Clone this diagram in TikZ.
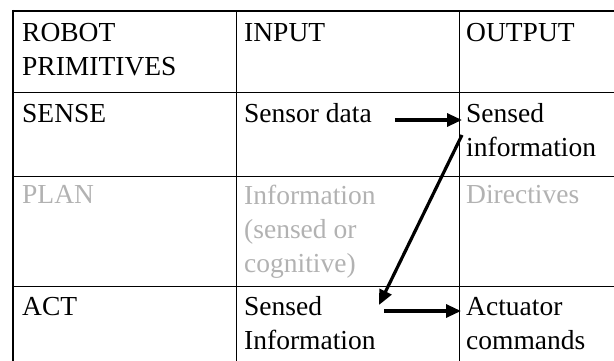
\documentclass[tikz,border=0pt]{standalone}
\usepackage{fontspec}
\setmainfont{Liberation Serif}
\usetikzlibrary{arrows.meta, positioning, calc}

\tikzset{
  cell/.style={anchor=base west, inner sep=0pt, align=left,
    font=\fontsize{27.5}{34}\selectfont},
  faded/.style={cell, text=black!30},
  flow/.style={line width=3.2pt, -{Triangle[length=15pt, width=13pt]}}
}

\begin{document}
\begin{tikzpicture}[x=1pt, y=-1pt]
			\useasboundingbox (0,0) rectangle (614,361);
			% Grid
			\draw[line width=2pt] (13,11) -- (614,11);
			\draw[line width=2pt] (13,10) -- (13,361);
			\foreach \gx in {236, 459}
				\draw[line width=1pt] (\gx,11) -- (\gx,361);
			\foreach \gy in {93, 176, 286}
				\draw[line width=1pt] (13,\gy) -- (614,\gy);
			
			% Header row (multi-line cells sit on their last baseline)
			\node[cell] (prim) at (22, 76) {ROBOT\\PRIMITIVES};
			\node[cell] (input) at (244, 42) {INPUT};
			\node[cell] (output) at (466, 42) {OUTPUT};
			
			% Sense row
			\node[cell] (sense) at (22, 123) {SENSE};
			\node[cell] (sensor) at (244, 123) {Sensor data};
			\node[cell] (sensed) at (466, 157) {Sensed\\information};
			
			% Plan row
			\node[faded] (plan) at (22, 204) {PLAN};
			\node[faded] (info) at (244, 272) {Information\\(sensed or\\cognitive)};
			\node[faded] (directives) at (466, 204) {Directives};
			
			% Act row
			\node[cell] (act) at (22, 315) {ACT};
			\node[cell] (sensedin) at (244, 349) {Sensed\\Information};
			\node[cell] (actuator) at (466, 349) {Actuator\\commands};
			
			% Connections
			\coordinate (d1) at (462, 135);
			\coordinate (d2) at (379, 305);
			\coordinate (a1) at (384, 311);
			\draw[flow] ([xshift=23pt, yshift=3pt]sensor.base east)
				-- ([xshift=-4pt, yshift=3pt]sensor.base east -| sensed.west);
			\draw[flow] (d1) -- (d2);
			\draw[flow] (a1) -- ([xshift=-5pt]actuator.west |- a1);
		\end{tikzpicture}
\end{document}
